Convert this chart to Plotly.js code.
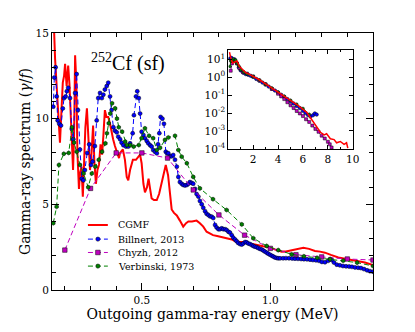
<!DOCTYPE html>
<html>
<head>
<meta charset="utf-8">
<script src="https://cdn.plot.ly/plotly-3.0.1.min.js"></script>
<style>
  html, body { margin: 0; padding: 0; background: #ffffff; }
  #chart { width: 415px; height: 332px; }
</style>
</head>
<body>
<div id="chart"></div>
<script>
const seriesNames = ["CGMF", "Billnert, 2013", "Chyzh, 2012", "Verbinski, 1973"];

// main panel, MeV vs gammas per fission
const cgmfEnergy = [0.152, 0.158, 0.162, 0.168, 0.175, 0.181, 0.187, 0.192, 0.197, 0.201, 0.207, 0.213, 0.218, 0.222, 0.227, 0.232, 0.236, 0.240, 0.245, 0.249, 0.255, 0.259, 0.265, 0.270, 0.275, 0.280, 0.286, 0.292, 0.298, 0.304, 0.310, 0.315, 0.321, 0.327, 0.333, 0.339, 0.345, 0.350, 0.356, 0.362, 0.369, 0.376, 0.382, 0.388, 0.395, 0.403, 0.411, 0.415, 0.426, 0.434, 0.441, 0.447, 0.454, 0.465, 0.477, 0.493, 0.499, 0.506, 0.512, 0.520, 0.526, 0.532, 0.538, 0.547, 0.558, 0.567, 0.577, 0.586, 0.593, 0.602, 0.609, 0.616, 0.625, 0.636, 0.648, 0.661, 0.672, 0.681, 0.695, 0.713, 0.726, 0.739, 0.752, 0.765, 0.777, 0.793, 0.811, 0.828, 0.850, 0.863, 0.882, 0.902, 0.921, 0.940, 0.953, 0.972, 0.992, 1.011, 1.030, 1.044, 1.061, 1.083, 1.104, 1.129, 1.151, 1.174, 1.194, 1.213, 1.236, 1.265, 1.291, 1.317, 1.342, 1.369, 1.400];
const cgmfSpectrum = [15.5, 15.2, 13.5, 11.9, 9.5, 8.6, 10.5, 12.1, 12.5, 13.2, 11.9, 13.1, 12.0, 10.0, 8.8, 7.0, 9.0, 13.7, 12.0, 8.0, 5.9, 6.8, 7.2, 5.45, 7.6, 9.5, 10.6, 8.5, 7.0, 8.0, 9.6, 7.5, 6.2, 7.0, 7.3, 8.5, 7.9, 9.0, 10.5, 10.1, 10.1, 9.7, 9.2, 8.8, 8.4, 8.0, 7.7, 8.0, 8.2, 7.6, 6.6, 6.4, 7.0, 7.6, 7.6, 7.9, 7.4, 6.2, 5.7, 6.0, 6.5, 5.9, 5.35, 5.25, 5.25, 5.6, 6.2, 6.9, 7.3, 6.7, 5.5, 4.7, 4.5, 4.35, 4.05, 3.7, 3.9, 4.0, 4.0, 4.05, 3.9, 3.7, 3.4, 3.3, 3.2, 3.15, 3.1, 3.05, 2.95, 2.85, 2.8, 2.8, 2.7, 2.65, 2.6, 2.55, 2.5, 2.4, 2.3, 2.24, 2.25, 2.33, 2.42, 2.47, 2.4, 2.28, 2.24, 2.18, 2.05, 1.9, 1.82, 1.75, 1.68, 1.6, 1.45];

const billnertEnergy = [0.155, 0.159, 0.164, 0.168, 0.172, 0.178, 0.185, 0.192, 0.197, 0.203, 0.208, 0.213, 0.220, 0.227, 0.233, 0.240, 0.246, 0.251, 0.259, 0.266, 0.272, 0.278, 0.287, 0.295, 0.302, 0.308, 0.317, 0.324, 0.330, 0.337, 0.344, 0.350, 0.356, 0.363, 0.369, 0.376, 0.382, 0.389, 0.395, 0.402, 0.408, 0.415, 0.421, 0.428, 0.438, 0.447, 0.454, 0.464, 0.469, 0.477, 0.482, 0.488, 0.493, 0.499, 0.506, 0.512, 0.519, 0.525, 0.532, 0.538, 0.544, 0.551, 0.558, 0.563, 0.568, 0.573, 0.580, 0.586, 0.593, 0.598, 0.603, 0.609, 0.616, 0.622, 0.629, 0.636, 0.642, 0.648, 0.655, 0.661, 0.668, 0.675, 0.681, 0.687, 0.694, 0.700, 0.707, 0.713, 0.720, 0.726, 0.733, 0.739, 0.746, 0.752, 0.759, 0.765, 0.772, 0.778, 0.785, 0.791, 0.798, 0.804, 0.811, 0.817, 0.824, 0.830, 0.837, 0.843, 0.850, 0.856, 0.863, 0.869, 0.875, 0.882, 0.889, 0.895, 0.902, 0.908, 0.914, 0.921, 0.928, 0.934, 0.940, 0.947, 0.953, 0.960, 0.967, 0.973, 0.979, 0.986, 0.992, 0.999, 1.006, 1.012, 1.018, 1.025, 1.031, 1.038, 1.050, 1.061, 1.073, 1.085, 1.096, 1.108, 1.120, 1.131, 1.143, 1.155, 1.166, 1.178, 1.190, 1.201, 1.213, 1.225, 1.233, 1.240, 1.248, 1.259, 1.271, 1.283, 1.295, 1.307, 1.318, 1.330, 1.342, 1.353, 1.365, 1.377, 1.388, 1.400];
const billnertSpectrum = [10.7, 12.4, 13.0, 11.3, 9.9, 9.7, 9.6, 10.6, 11.2, 11.3, 11.6, 11.8, 11.2, 9.4, 8.8, 11.5, 12.6, 10.5, 8.2, 6.5, 6.4, 7.0, 8.0, 8.5, 7.3, 7.5, 8.4, 9.9, 11.2, 11.5, 11.2, 11.4, 11.7, 11.9, 12.1, 11.3, 10.5, 9.5, 9.3, 9.2, 8.95, 8.8, 8.6, 8.45, 8.37, 8.37, 8.56, 9.15, 10.2, 11.3, 11.6, 11.2, 10.3, 9.24, 9.05, 8.86, 8.7, 8.56, 8.45, 8.37, 8.17, 8.07, 7.98, 8.5, 9.15, 10.1, 10.0, 9.7, 8.07, 7.98, 7.98, 7.8, 7.8, 7.88, 7.6, 7.2, 6.6, 6.3, 6.2, 6.13, 6.1, 6.13, 6.2, 6.3, 6.25, 6.2, 5.9, 5.6, 5.45, 5.2, 5.0, 4.8, 4.6, 4.45, 4.38, 4.3, 4.28, 4.2, 3.8, 3.65, 3.55, 3.55, 3.6, 3.55, 3.55, 3.5, 3.4, 3.35, 3.2, 3.05, 2.95, 2.85, 2.75, 2.68, 2.65, 2.72, 2.8, 2.78, 2.72, 2.68, 2.62, 2.57, 2.53, 2.5, 2.45, 2.4, 2.36, 2.3, 2.24, 2.18, 2.12, 2.06, 2.0, 1.95, 1.9, 1.87, 1.85, 1.85, 1.85, 1.86, 1.85, 1.84, 1.83, 1.82, 1.81, 1.8, 1.79, 1.77, 1.75, 1.73, 1.7, 1.64, 1.62, 1.7, 1.8, 1.75, 1.6, 1.48, 1.44, 1.4, 1.38, 1.37, 1.35, 1.32, 1.3, 1.28, 1.22, 1.15, 1.1, 1.07];

const chyzhEnergy = [0.2, 0.3, 0.4, 0.5, 0.6, 0.7, 0.8, 0.9, 1.0, 1.1, 1.2, 1.3, 1.4];
const chyzhSpectrum = [2.33, 5.93, 8.0, 8.0, 7.7, 5.84, 4.38, 3.2, 2.43, 2.06, 1.93, 1.81, 1.75];

const verbinskiEnergy = [0.155, 0.168, 0.177, 0.196, 0.215, 0.228, 0.236, 0.246, 0.259, 0.273, 0.291, 0.305, 0.319, 0.332, 0.345, 0.358, 0.364, 0.371, 0.377, 0.384, 0.396, 0.403, 0.410, 0.423, 0.435, 0.442, 0.455, 0.468, 0.488, 0.499, 0.512, 0.528, 0.544, 0.558, 0.571, 0.590, 0.603, 0.629, 0.642, 0.655, 0.675, 0.700, 0.726, 0.777, 0.830, 0.889, 0.934, 0.986, 1.031, 1.083, 1.131, 1.182, 1.233, 1.284, 1.338, 1.400];
const verbinskiSpectrum = [3.9, 4.86, 7.3, 7.95, 8.0, 9.5, 8.6, 8.07, 7.3, 6.8, 6.0, 6.8, 7.2, 7.6, 8.07, 8.56, 9.15, 9.73, 10.3, 10.9, 10.6, 10.0, 9.5, 9.24, 8.66, 8.46, 8.46, 8.37, 8.46, 8.86, 9.44, 9.0, 8.86, 8.17, 8.3, 8.76, 8.9, 9.0, 8.17, 7.78, 7.4, 6.6, 5.93, 5.3, 4.67, 3.83, 3.02, 2.57, 2.33, 2.08, 1.97, 1.88, 1.8, 1.71, 1.6, 1.4];

// inset, full energy range on a log scale
const insetCgmfEnergy = [0.1, 0.2, 0.35, 0.5, 0.7, 0.9, 1.1, 1.4, 1.7, 2.0, 2.5, 3.0, 3.5, 4.0, 4.5, 5.0, 5.5, 6.0, 6.3, 6.6, 7.0, 7.4, 7.7, 7.9, 8.2, 8.5, 8.7, 9.0, 9.3, 9.5, 9.6];
const insetCgmfSpectrum = [25, 12, 6.3, 7, 8, 4, 2.8, 1.8, 1.45, 1.15, 0.72, 0.42, 0.25, 0.15, 0.085, 0.05, 0.03, 0.016, 0.011, 0.0055, 0.0022, 0.00085, 0.0006, 0.0007, 0.00037, 0.00033, 0.00022, 0.00026, 0.00018, 0.00022, 0.00011];

const insetBillnertEnergy = [0.15, 0.25, 0.35, 0.5, 0.7, 0.85, 1.0, 1.2, 1.4, 1.6, 1.8, 2.0, 2.25, 2.5, 2.75, 3.0, 3.25, 3.5, 3.75, 4.0, 4.25, 4.5, 4.75, 5.0, 5.25, 5.5, 5.75, 6.0, 6.2, 6.4, 6.6, 6.8, 6.95, 7.1];
const insetBillnertSpectrum = [11, 12, 8, 10, 6, 3.5, 2.4, 1.8, 1.5, 1.35, 1.2, 1.05, 0.8, 0.64, 0.5, 0.39, 0.3, 0.23, 0.18, 0.14, 0.105, 0.08, 0.06, 0.045, 0.034, 0.025, 0.019, 0.0135, 0.01, 0.0078, 0.0064, 0.0075, 0.0095, 0.0082];

const insetChyzhEnergy = [0.2, 0.3, 0.4, 0.5, 0.7, 0.9, 1.2, 1.5, 2.0, 2.5, 3.0, 3.5, 4.0, 4.25, 4.5, 4.75, 5.0, 5.25, 5.5, 5.75, 6.0, 6.25, 6.5, 6.75, 7.0, 7.25, 7.5, 7.75, 8.0, 8.15, 8.3];
const insetChyzhSpectrum = [2.3, 5.9, 8, 8, 5.8, 3.2, 1.9, 1.6, 1.1, 0.66, 0.4, 0.22, 0.12, 0.085, 0.06, 0.04, 0.027, 0.019, 0.013, 0.0095, 0.0068, 0.0045, 0.0032, 0.002, 0.0013, 0.0009, 0.00055, 0.00038, 0.00025, 0.00018, 0.00012];

const insetVerbinskiEnergy = [0.15, 0.2, 0.3, 0.4, 0.5, 0.6, 0.7, 0.85, 1.0, 1.25, 1.5, 2.0, 2.5, 3.0, 3.5, 4.0, 4.5, 5.0, 5.5, 6.0, 6.5];
const insetVerbinskiSpectrum = [4, 7.9, 8, 10.5, 8.5, 9, 6, 4.2, 2.6, 1.9, 1.5, 1.08, 0.7, 0.41, 0.25, 0.15, 0.088, 0.052, 0.031, 0.018, 0.0085];

const insetTickValues = [1e-4, 1e-3, 1e-2, 1e-1, 1, 10];
const insetTickLabels = ["10<sup>-4</sup>", "10<sup>-3</sup>", "10<sup>-2</sup>", "10<sup>-1</sup>", "10<sup>0</sup>", "10<sup>1</sup>"];

const RED = "#ff0000";
const BLUE = "#0000ff";
const MAGENTA = "#bf00bf";
const GREEN = "#008000";
const DASH = "5px,3px";
const EDGE = { color: "#000000", width: 0.5 };

function dashedTrace(x, y, color, symbol, size, axes) {
  return {
    type: "scatter",
    mode: "lines+markers",
    x,
    y,
    xaxis: axes[0],
    yaxis: axes[1],
    line: { color, width: 1, dash: DASH },
    marker: { color, symbol, size, line: EDGE },
    hoverinfo: "skip",
  };
}

const mainAxes = ["x", "y"];
const insetAxes = ["x2", "y2"];

const traces = [
  {
    type: "scatter",
    mode: "lines",
    x: cgmfEnergy,
    y: cgmfSpectrum,
    line: { color: RED, width: 2 },
    hoverinfo: "skip",
  },
  dashedTrace(billnertEnergy, billnertSpectrum, BLUE, "circle", 4, mainAxes),
  dashedTrace(chyzhEnergy, chyzhSpectrum, MAGENTA, "square", 4.5, mainAxes),
  dashedTrace(verbinskiEnergy, verbinskiSpectrum, GREEN, "hexagon", 4.2, mainAxes),
  dashedTrace(insetBillnertEnergy, insetBillnertSpectrum, BLUE, "circle", 3.5, insetAxes),
  dashedTrace(insetChyzhEnergy, insetChyzhSpectrum, MAGENTA, "square", 3, insetAxes),
  dashedTrace(insetVerbinskiEnergy, insetVerbinskiSpectrum, GREEN, "hexagon", 3, insetAxes),
  {
    type: "scatter",
    mode: "lines",
    x: insetCgmfEnergy,
    y: insetCgmfSpectrum,
    xaxis: "x2",
    yaxis: "y2",
    line: { color: RED, width: 1.5 },
    hoverinfo: "skip",
  },
];

const boxAxis = {
  showline: true,
  linecolor: "#000000",
  linewidth: 1,
  mirror: "allticks",
  ticks: "inside",
  tickcolor: "#000000",
  showgrid: false,
  zeroline: false,
};

// hand-placed legend, matplotlib style (no frame, tight rows)
const legendRows = [0.253, 0.198, 0.146, 0.093];
const legendColors = [RED, BLUE, MAGENTA, GREEN];
const legendLineX = [0.112, 0.174];
const legendMarkX = 0.143;
const legendTextX = 0.199;

const shapes = [];
const annotations = [];
seriesNames.forEach((name, index) => {
  const y = legendRows[index];
  const color = legendColors[index];
  shapes.push({
    type: "line",
    xref: "paper",
    yref: "paper",
    x0: legendLineX[0],
    x1: legendLineX[1],
    y0: y,
    y1: y,
    line: index === 0 ? { color, width: 2 } : { color, width: 1, dash: DASH },
  });
  if (index > 0) {
    const half = index === 2 ? 2.3 : 2.1;
    shapes.push({
      type: index === 2 ? "rect" : "circle",
      xref: "paper",
      yref: "paper",
      xsizemode: "pixel",
      ysizemode: "pixel",
      xanchor: legendMarkX,
      yanchor: y,
      x0: -half,
      x1: half,
      y0: -half,
      y1: half,
      fillcolor: color,
      line: EDGE,
    });
  }
  annotations.push({
    xref: "paper",
    yref: "paper",
    x: legendTextX,
    y,
    xanchor: "left",
    yanchor: "middle",
    showarrow: false,
    text: name,
    font: { size: 9.5 },
  });
});

annotations.push({
  xref: "paper",
  yref: "paper",
  x: 0.237,
  y: 0.885,
  xanchor: "center",
  yanchor: "middle",
  showarrow: false,
  text: "<sup>252</sup>Cf (sf)",
  font: { family: "Liberation Serif", size: 20 },
});

const layout = {
  width: 415,
  height: 332,
  paper_bgcolor: "#ffffff",
  plot_bgcolor: "#ffffff",
  margin: { l: 52, r: 42, t: 33, b: 42 },
  font: { family: "DejaVu Serif", color: "#000000", size: 10.5 },
  showlegend: false,
  xaxis: {
    ...boxAxis,
    domain: [0, 1],
    range: [0.15, 1.4],
    tick0: 0,
    dtick: 0.5,
    tickformat: ".1f",
    ticklen: 7,
    minor: { tick0: 0, dtick: 0.1, ticks: "inside", ticklen: 4, tickcolor: "#000000", showgrid: false },
    title: { text: "Outgoing gamma-ray energy (MeV)", font: { size: 14 }, standoff: 4 },
  },
  yaxis: {
    ...boxAxis,
    domain: [0, 1],
    range: [0, 15],
    tick0: 0,
    dtick: 5,
    ticklen: 7,
    minor: { tick0: 0, dtick: 1, ticks: "inside", ticklen: 4, tickcolor: "#000000", showgrid: false },
    title: { text: "Gamma-ray spectrum (<i>γ</i>/<i>f</i>)", font: { size: 14 }, standoff: 1 },
  },
  xaxis2: {
    ...boxAxis,
    anchor: "y2",
    domain: [0.549, 0.937],
    range: [0, 10],
    tickvals: [2, 4, 6, 8, 10],
    ticklen: 4,
    minor: { tick0: 0, dtick: 1, ticks: "inside", ticklen: 2, tickcolor: "#000000", showgrid: false },
  },
  yaxis2: {
    ...boxAxis,
    anchor: "x2",
    type: "log",
    domain: [0.549, 0.934],
    range: [-4, 1.52],
    tickvals: insetTickValues,
    ticktext: insetTickLabels,
    ticklen: 4,
  },
  shapes,
  annotations,
};

Plotly.newPlot("chart", traces, layout, { displayModeBar: false, staticPlot: true });
</script>
</body>
</html>
